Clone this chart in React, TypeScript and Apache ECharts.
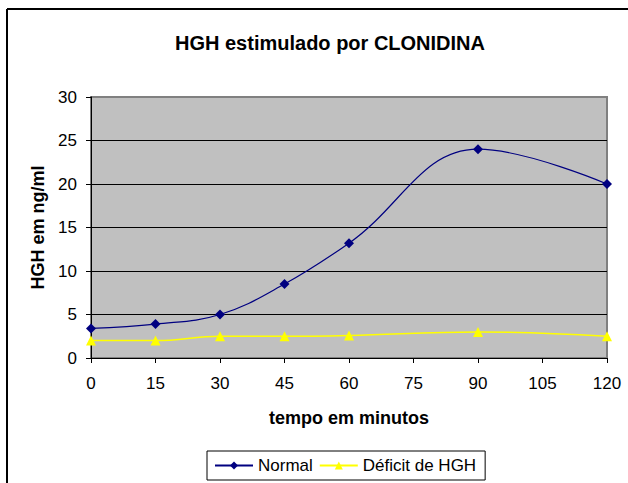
import React, { useEffect, useRef } from "react";
import * as echarts from "echarts";

const minutes = [0, 15, 30, 45, 60, 90, 120];
const normalValues = [3.4, 3.9, 5.0, 8.5, 13.2, 24.0, 20.0];
const deficitValues = [2.0, 2.0, 2.5, 2.5, 2.6, 3.0, 2.5];
const seriesNames = ["Normal", "Déficit de HGH"];
const titleText = "HGH estimulado por CLONIDINA";
const xName = "tempo em minutos";
const yName = "HGH em ng/ml";

const FONT = "Liberation Sans, Arial, sans-serif";

export default function App() {
  const ref = useRef<HTMLDivElement>(null);
  useEffect(() => {
    if (!ref.current) return;
    const chart = echarts.init(ref.current, undefined, { renderer: "svg" });
    const pair = (vals: number[]) => minutes.map((m, i) => [m, vals[i]]);
    chart.setOption({
      animation: false,
      backgroundColor: "#ffffff",
      textStyle: { fontFamily: FONT },
      title: {
        text: titleText,
        left: 325,
        textAlign: "center",
        top: 28,
        textStyle: { fontFamily: FONT, fontSize: 20, fontWeight: "bold", color: "#000" },
      },
      graphic: [
        { type: "line", shape: { x1: 7, y1: 9, x2: 628, y2: 9 }, style: { stroke: "#000", lineWidth: 2 } },
        { type: "line", shape: { x1: 7, y1: 9, x2: 7, y2: 483 }, style: { stroke: "#000", lineWidth: 2 } },
      ],
      legend: {
        left: 207,
        top: 451,
        itemWidth: 38,
        itemHeight: 10,
        itemGap: 6,
        padding: [6, 9, 6, 7],
        borderColor: "#000",
        borderWidth: 1,
        textStyle: { fontFamily: FONT, fontSize: 17, color: "#000" },
        data: seriesNames,
      },
      grid: {
        left: 91,
        right: 21,
        top: 97,
        bottom: 125,
        show: true,
        backgroundColor: "#C0C0C0",
        borderColor: "#808080",
        borderWidth: 2,
      },
      xAxis: {
        type: "value",
        min: 0,
        max: 120,
        interval: 15,
        name: xName,
        nameLocation: "middle",
        nameGap: 51,
        nameTextStyle: { fontFamily: FONT, fontSize: 18, fontWeight: "bold", color: "#000" },
        axisLine: { lineStyle: { color: "#000", width: 1 } },
        axisTick: { show: true, length: 5, lineStyle: { color: "#000" } },
        axisLabel: { fontFamily: FONT, fontSize: 17, color: "#000", margin: 17 },
        splitLine: { show: false },
      },
      yAxis: {
        type: "value",
        min: 0,
        max: 30,
        interval: 5,
        name: yName,
        nameLocation: "middle",
        nameGap: 42,
        nameTextStyle: { fontFamily: FONT, fontSize: 18, fontWeight: "bold", color: "#000" },
        axisLine: { show: true, lineStyle: { color: "#000", width: 1 } },
        axisTick: { show: true, length: 5, lineStyle: { color: "#000" } },
        axisLabel: { fontFamily: FONT, fontSize: 17, color: "#000", margin: 14 },
        splitLine: {
          show: true,
          lineStyle: {
            color: ["#000", "#000", "#000", "#000", "#000", "#000", "#808080"],
            width: 1,
          },
        },
      },
      series: [
        {
          name: seriesNames[0],
          type: "line",
          data: pair(normalValues),
          smooth: 0.4,
          symbol: "diamond",
          symbolSize: 10,
          lineStyle: { color: "#000080", width: 1.2 },
          itemStyle: { color: "#000080" },
        },
        {
          name: seriesNames[1],
          type: "line",
          data: pair(deficitValues),
          smooth: 0.4,
          symbol: "triangle",
          symbolSize: 10,
          lineStyle: { color: "#FFFF00", width: 1.5 },
          itemStyle: { color: "#FFFF00" },
        },
      ],
    });
    return () => chart.dispose();
  }, []);
  return <div ref={ref} style={{ width: 628, height: 483, position: "absolute", left: 0, top: 0 }} />;
}
